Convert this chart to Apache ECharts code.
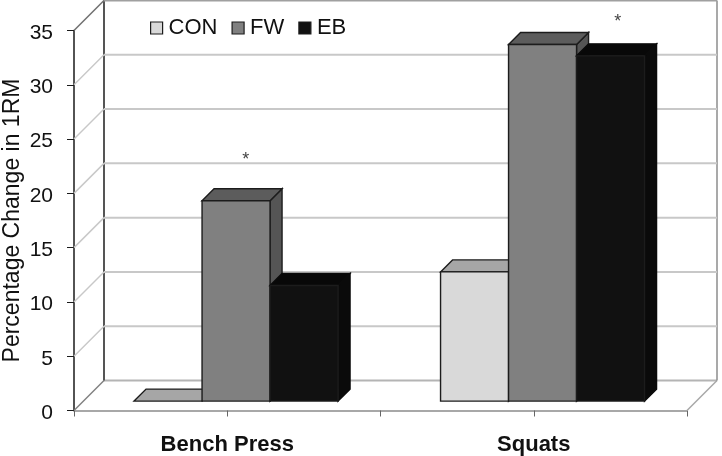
<!DOCTYPE html>
<html>
<head>
<meta charset="utf-8">
<title>Percentage Change in 1RM</title>
<script src="https://cdn.jsdelivr.net/npm/echarts@6/dist/echarts.min.js"></script>
<style>
  html, body { margin: 0; padding: 0; background: #fff; }
  #chart { width: 722px; height: 456px; }
</style>
</head>
<body>
<div id="chart"></div>
<script>
// Data
var categories = ['Bench Press', 'Squats'];
var conValues = [0, 11.9];
var fwValues = [18.45, 32.85];
var ebValues = [10.65, 31.8];
var yTicks = [0, 5, 10, 15, 20, 25, 30, 35];
var seriesNames = ['CON', 'FW', 'EB'];
// significance stars: category, height on the axis, sideways nudge from the tick
var starCategories = [0, 1];
var starHeights = [23.1, 35.8];
var starNudges = [18.5, 84];

// 3D look
var wallDepth = 30;   // how far the back wall sits behind the front axis
var barInsetX = 8.8;  // gap between floor front edge and bar front
var barInsetY = 9.4;
var barDepth = 12;
var barWidth = 68;
var edge = '#1c1c1c';
var faces = [
  { front: '#d9d9d9', top: '#a6a6a6', side: '#a6a6a6' },
  { front: '#808080', top: '#5c5c5c', side: '#555555' },
  { front: '#111111', top: '#080808', side: '#0a0a0a' }
];

function face(points, fill, stroke) {
  return {
    type: 'polygon',
    shape: { points: points },
    style: { fill: fill, stroke: stroke, lineWidth: 1.4 }
  };
}

function seg(x1, y1, x2, y2, color, width) {
  return {
    type: 'line',
    shape: { x1: x1, y1: y1, x2: x2, y2: y2 },
    style: { stroke: color, lineWidth: width }
  };
}

// one bar as front, top and side faces
function renderBar(seriesIdx) {
  return function (params, api) {
    var c = api.coord([api.value(0), 0]);
    var t = api.coord([api.value(0), api.value(1)]);
    var x0 = c[0] + barInsetX + (seriesIdx - 1.5) * barWidth;
    var x1 = x0 + barWidth;
    var yb = c[1] - barInsetY;
    var yt = t[1] - barInsetY;
    var f = faces[seriesIdx];
    var sideEdge = seriesIdx === 2 ? f.side : edge;
    var children = [
      face([[x1, yt], [x1 + barDepth, yt - barDepth], [x1 + barDepth, yb - barDepth], [x1, yb]], f.side, sideEdge),
      face([[x0, yt], [x0 + barDepth, yt - barDepth], [x1 + barDepth, yt - barDepth], [x1, yt]], f.top, sideEdge)
    ];
    if (yb - yt > 0.5) {
      children.push(face([[x0, yt], [x1, yt], [x1, yb], [x0, yb]], f.front, edge));
    }
    return { type: 'group', children: children };
  };
}

// back wall gridline and the diagonal on the side wall for each tick
function renderWall(params, api) {
  var v = api.value(0);
  var y = api.coord([0, v])[1];
  var left = params.coordSys.x;
  var right = left + params.coordSys.width;
  var children = [];
  if (v === 0) {
    children.push(seg(left + wallDepth, y - wallDepth, right + wallDepth, y - wallDepth, '#b4b4b4', 2));
    children.push(seg(left, y, left + wallDepth, y - wallDepth, '#808080', 1.5));
    children.push(seg(right, y, right + wallDepth, y - wallDepth, '#a6a6a6', 1.5));
    children.push(seg(left + wallDepth, y - wallDepth, left + wallDepth, params.coordSys.y - wallDepth, '#555555', 2));
    children.push(seg(right + wallDepth, y - wallDepth, right + wallDepth, params.coordSys.y - wallDepth, '#8c8c8c', 1.5));
  } else if (v === yTicks[yTicks.length - 1]) {
    children.push(seg(left + wallDepth, y - wallDepth, right + wallDepth, y - wallDepth, '#a0a0a0', 2));
    children.push(seg(left, y, left + wallDepth, y - wallDepth, '#707070', 1.5));
  } else {
    children.push(seg(left + wallDepth, y - wallDepth, right + wallDepth, y - wallDepth, '#c8c8c8', 2));
    children.push(seg(left, y, left + wallDepth, y - wallDepth, '#c8c8c8', 1.5));
  }
  return { type: 'group', children: children };
}

function renderStar(params, api) {
  var p = api.coord([api.value(0), api.value(1)]);
  return {
    type: 'text',
    style: {
      text: '*',
      x: p[0] + api.value(2),
      y: p[1],
      fill: '#444444',
      font: '18px "Liberation Sans", Arial, sans-serif',
      align: 'center',
      verticalAlign: 'middle'
    }
  };
}

function barData(values) {
  return values.map(function (v, i) { return [i, v]; });
}

var chart = echarts.init(document.getElementById('chart'), null, { renderer: 'canvas' });

var option = {
  animation: false,
  backgroundColor: '#ffffff',
  textStyle: { fontFamily: '"Liberation Sans", Arial, sans-serif' },
  legend: {
    left: 145,
    top: 12,
    itemWidth: 12,
    itemHeight: 12,
    itemGap: 14,
    selectedMode: false,
    textStyle: { fontSize: 22, color: '#111111', padding: [0, 0, 0, 1] },
    data: seriesNames.map(function (name, i) {
      return { name: name, icon: 'rect', itemStyle: { color: faces[i].front, borderColor: edge, borderWidth: 1.2 } };
    })
  },
  grid: { left: 74, top: 30.5, width: 613, height: 380, outerBoundsMode: 'none' },
  xAxis: [
    {
      type: 'category',
      data: categories,
      position: 'bottom',
      axisLine: { show: true, lineStyle: { color: '#a8a8a8', width: 2 } },
      axisTick: { show: true, alignWithLabel: true, length: 6, lineStyle: { color: '#666666', width: 1 } },
      axisLabel: { fontSize: 22, fontWeight: 'bold', color: '#111111', margin: 23 }
    },
    {
      // second copy only to put ticks on the category boundaries too
      type: 'category',
      data: categories,
      position: 'bottom',
      axisLine: { show: false },
      axisTick: { show: true, length: 6, lineStyle: { color: '#666666', width: 1 } },
      axisLabel: { show: false }
    }
  ],
  yAxis: {
    type: 'value',
    min: 0,
    max: 35,
    interval: 5,
    name: 'Percentage Change in 1RM',
    nameLocation: 'middle',
    nameGap: 50,
    nameMoveOverlap: false,
    nameRotate: 90,
    nameTextStyle: { fontSize: 23, color: '#111111' },
    axisLine: { show: true, lineStyle: { color: '#1a1a1a', width: 1.5 } },
    axisTick: { show: true, length: 7, lineStyle: { color: '#1a1a1a', width: 1 } },
    // top aligned with a short line box sits the digits a little under the tick, as in the source
    axisLabel: { fontSize: 21, color: '#111111', margin: 21, verticalAlign: 'top', lineHeight: 5 },
    splitLine: { show: false }
  },
  series: [
    {
      type: 'custom',
      name: 'walls',
      coordinateSystem: 'cartesian2d',
      renderItem: renderWall,
      data: yTicks.map(function (v) { return [v]; }),
      encode: { y: 0 },
      clip: false,
      z: 1,
      silent: true
    },
    {
      type: 'custom',
      name: seriesNames[0],
      renderItem: renderBar(0),
      data: barData(conValues),
      itemStyle: { color: faces[0].front },
      encode: { x: 0, y: 1 },
      z: 2
    },
    {
      type: 'custom',
      name: seriesNames[1],
      renderItem: renderBar(1),
      data: barData(fwValues),
      itemStyle: { color: faces[1].front },
      encode: { x: 0, y: 1 },
      z: 3
    },
    {
      type: 'custom',
      name: seriesNames[2],
      renderItem: renderBar(2),
      data: barData(ebValues),
      itemStyle: { color: faces[2].front },
      encode: { x: 0, y: 1 },
      z: 4
    },
    {
      type: 'custom',
      name: 'stars',
      renderItem: renderStar,
      data: starCategories.map(function (c, i) { return [c, starHeights[i], starNudges[i]]; }),
      encode: { x: 0, y: 1 },
      clip: false,
      z: 5,
      silent: true
    }
  ]
};

chart.setOption(option);
</script>
</body>
</html>
